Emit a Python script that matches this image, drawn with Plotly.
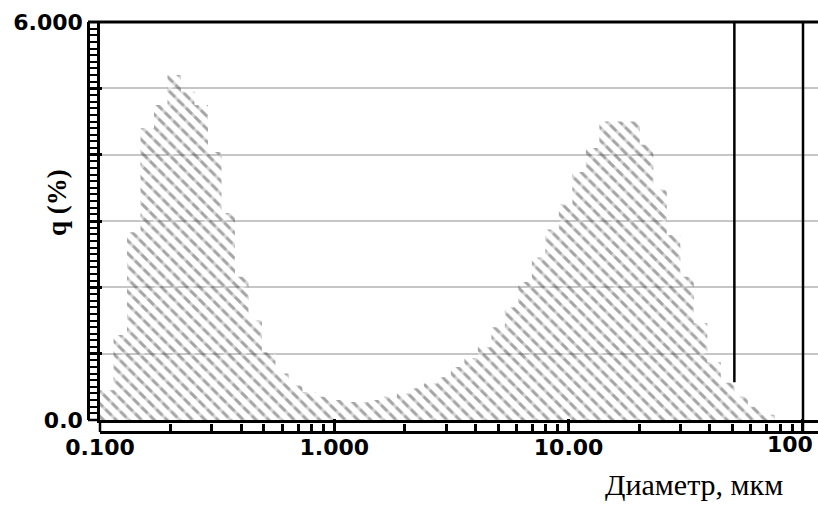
import plotly.graph_objects as go

# ---- data ----
# bin edges (diameter, um) on a log scale
edges = [0.100, 0.1142, 0.1304, 0.1489, 0.1700, 0.1941, 0.2217, 0.2531, 0.2890, 0.3300,
         0.3767, 0.4302, 0.4912, 0.5609, 0.6405, 0.7311, 0.8348, 0.9532, 1.088, 1.243,
         1.419, 1.620, 1.850, 2.113, 2.412, 2.754, 3.145, 3.591, 4.100, 4.682,
         5.346, 6.104, 6.970, 7.958, 9.087, 10.38, 11.85, 13.53, 15.45, 17.64,
         20.14, 22.99, 26.25, 29.98, 34.23, 39.08, 44.63, 50.96, 58.18, 66.44, 75.86]
# q (%) per bin
q_values = [0.45, 1.28, 2.83, 4.40, 4.75, 5.20, 4.95, 4.75, 4.04, 3.12,
            2.16, 1.50, 1.02, 0.70, 0.52, 0.42, 0.35, 0.30, 0.27, 0.27,
            0.30, 0.35, 0.40, 0.48, 0.55, 0.65, 0.80, 0.93, 1.10, 1.40,
            1.70, 2.08, 2.45, 2.87, 3.25, 3.74, 4.10, 4.50, 4.50, 4.50,
            4.15, 3.47, 2.79, 2.16, 1.46, 0.87, 0.56, 0.35, 0.20, 0.08]
cursor_d = [51, 51]
cursor_q = [0.57, 6.0]

xtick_vals = [0.1, 1, 10, 100]
xtick_text = ["0.100", "1.000", "10.00", ""]
xminor_vals = [0.2, 0.3, 0.4, 0.5, 0.6, 0.7, 0.8, 0.9,
               2, 3, 4, 5, 6, 7, 8, 9,
               20, 30, 40, 50, 60, 70, 80, 90]
ytick_vals = [0, 1, 2, 3, 4, 5, 6]
ytick_text = ["0.0", "", "", "", "", "", "6.000"]
x_title = "Диаметр, мкм"
y_title = "q (%)"

# ---- layout geometry ----
W, H = 818, 509
L, T, B, R = 88, 22, 77, 0
PW, PH = W - L - R, H - T - B
band = 12
dx = band / PW
dy = band / PH
XR = [-1, 2.0645]

tick_font = dict(family="DejaVu Sans", size=22, color="black", weight="bold")

step_q = q_values + [q_values[-1]]
clear = "rgba(255,255,255,0)"

fig = go.Figure()
# hatch lines
fig.add_trace(go.Scatter(
    x=edges, y=step_q, mode="lines",
    line=dict(width=0, shape="hv", color=clear),
    fill="tozeroy", fillcolor=clear,
    fillpattern=dict(shape="\\", fgcolor="#4a4a4a", bgcolor=clear, size=9, solidity=0.33),
    hoverinfo="skip", showlegend=False))
# white cross-cuts that break the hatch into dashes
fig.add_trace(go.Scatter(
    x=edges, y=step_q, mode="lines",
    line=dict(width=0, shape="hv", color=clear),
    fill="tozeroy", fillcolor=clear,
    fillpattern=dict(shape="/", fgcolor="white", bgcolor=clear, size=12, solidity=0.3),
    hoverinfo="skip", showlegend=False))
fig.add_trace(go.Scatter(
    x=cursor_d, y=cursor_q, mode="lines", xaxis="x2", yaxis="y2",
    line=dict(color="black", width=2.5), hoverinfo="skip", showlegend=False))

fig.update_layout(
    width=W, height=H, margin=dict(l=L, r=R, t=T, b=B),
    paper_bgcolor="white", plot_bgcolor="white", showlegend=False,
    xaxis=dict(type="log", range=XR, domain=[dx, 1], anchor="y",
               showline=True, linecolor="black", linewidth=2.5,
               ticks="", showticklabels=False, showgrid=False, zeroline=False),
    yaxis=dict(range=[0, 6], domain=[dy, 1], anchor="x",
               showline=True, linecolor="black", linewidth=2.5,
               showgrid=True, gridcolor="#c6c6c6", gridwidth=2,
               tickmode="array", tickvals=ytick_vals,
               ticks="", showticklabels=False, zeroline=False),
    xaxis2=dict(type="log", range=XR, overlaying="x", anchor="free", position=0,
                side="bottom", showline=True, linecolor="black", linewidth=2.5,
                ticks="inside", ticklen=12, tickwidth=2.5, tickcolor="black",
                tickmode="array", tickvals=xtick_vals, ticktext=xtick_text,
                ticklabelstandoff=-5,
                minor=dict(tickmode="array", tickvals=xminor_vals, ticks="inside",
                           ticklen=7, tickwidth=2.5, tickcolor="black", showgrid=False),
                tickfont=tick_font, showgrid=False, zeroline=False),
    yaxis2=dict(range=[0, 6], overlaying="y", anchor="free", position=0, side="left",
                showline=True, linecolor="black", linewidth=2.5,
                ticks="inside", ticklen=12, tickwidth=2.5, tickcolor="black",
                tickmode="array", tickvals=ytick_vals, ticktext=ytick_text,
                tickfont=tick_font,
                minor=dict(tickmode="linear", tick0=0, dtick=0.1, ticks="inside",
                           ticklen=8, tickwidth=1.5, tickcolor="black", showgrid=False),
                showgrid=False, zeroline=False),
)

line_k = dict(color="black", width=2.5)
fig.add_shape(type="line", xref="paper", yref="paper", x0=0, x1=1, y0=1, y1=1,
              line=dict(color="black", width=3))
fig.add_shape(type="line", xref="paper", yref="paper", x0=0, x1=dx, y0=dy, y1=dy, line=line_k)
fig.add_shape(type="line", xref="paper", yref="paper", x0=dx, x1=dx, y0=0, y1=dy, line=line_k)
fig.add_shape(type="line", xref="paper", yref="paper",
              x0=(803 - L) / PW, x1=(803 - L) / PW, y0=0, y1=1, line=line_k)

fig.add_annotation(text="100", xref="paper", yref="paper", x=(815 - L) / PW,
                   y=(432 - 444) / PH, xanchor="right", yanchor="middle",
                   showarrow=False, font=tick_font)
fig.add_annotation(text=y_title, xref="paper", yref="paper", x=(57 - L) / PW,
                   y=(432 - 203) / PH, xanchor="center", yanchor="middle",
                   textangle=-90, showarrow=False,
                   font=dict(family="Liberation Serif", size=27, color="black", weight="bold"))
fig.add_annotation(text=x_title, xref="paper", yref="paper", x=(785 - L) / PW,
                   y=(432 - 484) / PH, xanchor="right", yanchor="middle",
                   showarrow=False,
                   font=dict(family="Liberation Serif", size=30, color="black"))

fig.write_html("out.html", config={"displayModeBar": False},
               post_script="document.body.style.margin='0';document.body.style.overflow='hidden';")
